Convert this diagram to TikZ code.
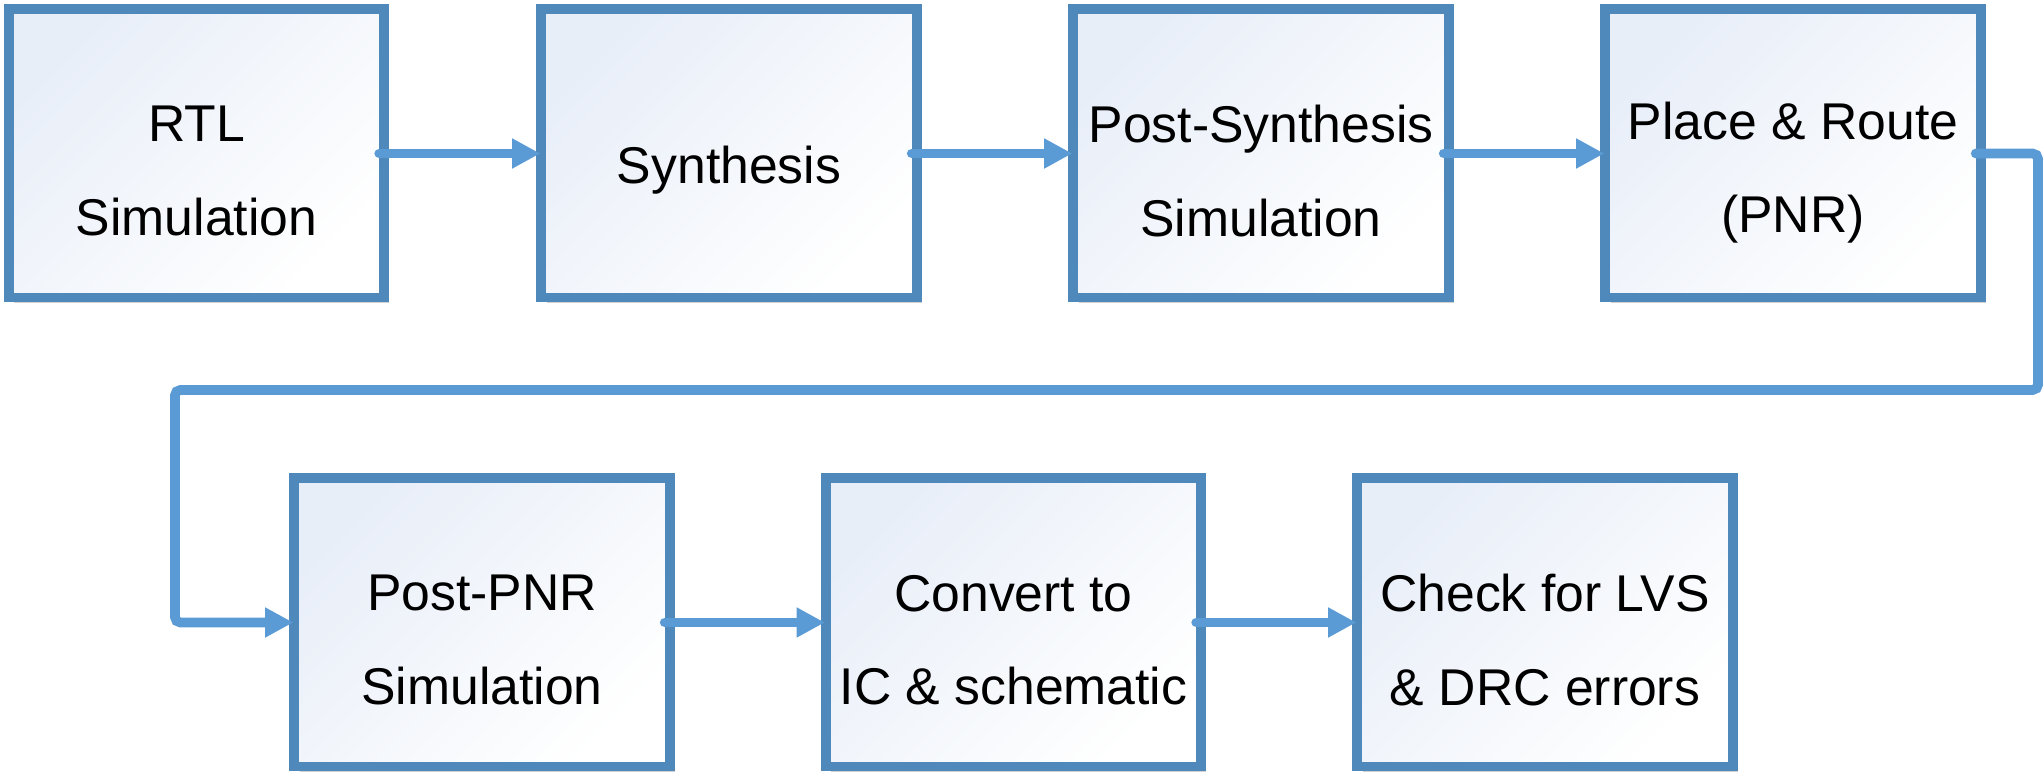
\documentclass[tikz,border=0pt]{standalone}
\usepackage{fontspec}
\setmainfont{Liberation Sans}
\usetikzlibrary{arrows.meta,shadows}
\definecolor{boxborder}{HTML}{4F89BC}
\definecolor{arrowblue}{HTML}{5B9BD5}
\definecolor{boxtint}{HTML}{E8EEF8}
\begin{document}
\begin{tikzpicture}[x=0.01cm,y=-0.01cm,
  stepbox/.style={draw=boxborder, line width=2.8pt, minimum width=3.75cm, minimum height=2.88cm,
    top color=boxtint, middle color=white!97!boxtint, bottom color=white, shading angle=45,
    drop shadow={shadow xshift=1.5pt, shadow yshift=-1.5pt, opacity=0.3, fill=black!60}, inner sep=0pt},
  lbl/.style={font=\fontsize{14.7}{26.6}\selectfont, align=center, inner sep=0pt, text=black},
  conn/.style={draw=arrowblue, line width=2.75pt, line cap=round, shorten >=-1.1pt,
    -{Triangle[length=8pt,width=8pt]}}]
\useasboundingbox (0,0) rectangle (2044,783);

\node[stepbox] (b1) at (196.5,153.5) {};
\node[stepbox] (b2) at (729,153.5) {};
\node[stepbox] (b3) at (1261,153.5) {};
\node[stepbox] (b4) at (1793,153.5) {};
\node[stepbox] (b5) at (482,622.5) {};
\node[stepbox] (b6) at (1013.5,622.5) {};
\node[stepbox] (b7) at (1545,622.5) {};

\node[lbl] (t1) at ([yshift=-5pt]b1.center) {RTL\\Simulation};
\node[lbl] (t2) at ([yshift=-4.6pt]b2.center) {Synthesis};
\node[lbl] (t3) at ([yshift=-5pt]b3.center) {Post-Synthesis\\Simulation};
\node[lbl] (t4) at ([yshift=-5.4pt]b4.center) {Place \& Route\\(PNR)};
\node[lbl] (t5) at ([yshift=-5pt]b5.center) {Post-PNR\\Simulation};
\node[lbl] (t6) at ([yshift=-5pt]b6.center) {Convert to\\IC \& schematic};
\node[lbl] (t7) at ([yshift=-5pt]b7.center) {Check for LVS\\\& DRC errors};

\coordinate (cr) at (2038,390);
\coordinate (cl) at (175,622.5);

\draw[conn] ([xshift=-2.8pt]b1.east) -- (b2.west);
\draw[conn] ([xshift=-2.8pt]b2.east) -- (b3.west);
\draw[conn] ([xshift=-2.8pt]b3.east) -- (b4.west);
\draw[conn, rounded corners=1.5pt] ([xshift=-2.8pt]b4.east) -| (cr) -| (cl) -- (b5.west);
\draw[conn] ([xshift=-2.8pt]b5.east) -- (b6.west);
\draw[conn] ([xshift=-2.8pt]b6.east) -- (b7.west);
\end{tikzpicture}
\end{document}
